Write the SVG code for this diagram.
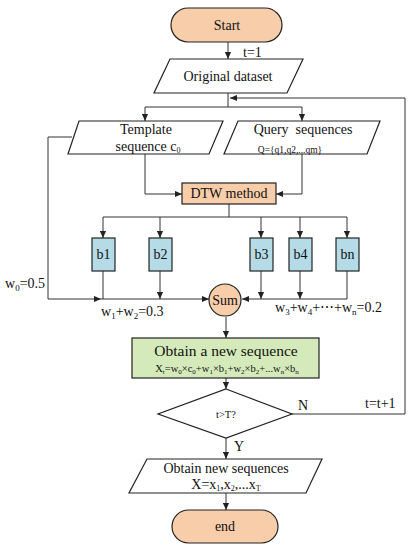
<svg xmlns="http://www.w3.org/2000/svg" width="415" height="550" viewBox="0 0 415 550" font-family="'Liberation Serif', 'Times New Roman', serif">
<style>
text{font-family:'Liberation Serif','Times New Roman',serif;fill:#111;text-anchor:middle}
.sh{stroke:#222;stroke-width:1.2}
.ln{fill:none;stroke:#333;stroke-width:1}
.peach{fill:#F8CDAA}
.blue{fill:#B5DCE6}
.green{fill:#D5EABA}
.wh{fill:#fff}
.t13{font-size:14px}
.lab{font-size:14px;text-anchor:start}
</style>
<defs>
<marker id="a" viewBox="0 0 8 8" refX="8" refY="4" markerWidth="7" markerHeight="7" orient="auto" markerUnits="userSpaceOnUse">
<path d="M0,0.5 L8,4 L0,7.5 z" fill="#222"/>
</marker>
</defs>
<rect width="415" height="550" fill="#fff"/>
<g id="connectors">
<path class="ln" d="M228,42 V59" marker-end="url(#a)"/>
<path class="ln" d="M228,93 V107 M145,107 H302"/>
<path class="ln" d="M145,107 V121" marker-end="url(#a)"/>
<path class="ln" d="M302,107 V121" marker-end="url(#a)"/>
<path class="ln" d="M145,154 V194 H182" marker-end="url(#a)"/>
<path class="ln" d="M302,154 V194 H276" marker-end="url(#a)"/>
<path class="ln" d="M229,204 V217 M103,217 H347"/>
<path class="ln" d="M103,217 V238" marker-end="url(#a)"/>
<path class="ln" d="M160,217 V238" marker-end="url(#a)"/>
<path class="ln" d="M261,217 V238" marker-end="url(#a)"/>
<path class="ln" d="M300,217 V238" marker-end="url(#a)"/>
<path class="ln" d="M347,217 V238" marker-end="url(#a)"/>
<path class="ln" d="M72,137 H48 V299 H101" marker-end="url(#a)"/>
<path class="ln" d="M101,299 H209" marker-end="url(#a)"/>
<path class="ln" d="M103,271 V299"/>
<path class="ln" d="M160,271 V299" marker-end="url(#a)"/>
<path class="ln" d="M261,271 V299" marker-end="url(#a)"/>
<path class="ln" d="M300,271 V299" marker-end="url(#a)"/>
<path class="ln" d="M347,271 V299 H242" marker-end="url(#a)"/>
<path class="ln" d="M226,317 V338" marker-end="url(#a)"/>
<path class="ln" d="M226,378 V389" marker-end="url(#a)"/>
<path class="ln" d="M292,414 H405 V98 H230" marker-end="url(#a)"/>
<path class="ln" d="M226,438 V459" marker-end="url(#a)"/>
<path class="ln" d="M226,493 V510" marker-end="url(#a)"/>
<text class="lab" x="243" y="57">t=1</text>
<text class="lab" x="5" y="288">w<tspan font-size="9" dy="3">0</tspan><tspan dy="-3">=0.5</tspan></text>
<text class="lab" x="101" y="316">w<tspan font-size="9" dy="3">1</tspan><tspan dy="-3">+w</tspan><tspan font-size="9" dy="3">2</tspan><tspan dy="-3">=0.3</tspan></text>
<text class="lab" x="275" y="312">w<tspan font-size="9" dy="3">3</tspan><tspan dy="-3">+w</tspan><tspan font-size="9" dy="3">4</tspan><tspan dy="-3">+⋯+w</tspan><tspan font-size="9" dy="3">n</tspan><tspan dy="-3">=0.2</tspan></text>
<text class="lab" x="298" y="410">N</text>
<text class="lab" x="365" y="408">t=t+1</text>
<text class="lab" x="234" y="451">Y</text>
</g>
<g id="start">
<rect class="peach sh" x="171" y="8" width="111" height="34" rx="17"/>
<text class="t13" x="227" y="30">Start</text>
</g>
<g id="original">
<polygon class="wh sh" points="170,59 303,59 287,93 154,93"/>
<text class="t13" x="228" y="81">Original dataset</text>
</g>
<g id="template">
<polygon class="wh sh" points="79,121 223,121 209,154 68,154"/>
<text class="t13" x="146" y="134">Template</text>
<text class="t13" x="148" y="151">sequence c<tspan font-size="8" dy="2">0</tspan></text>
</g>
<g id="query">
<polygon class="wh sh" points="238,121 380,121 367,154 224,154"/>
<text class="t13" x="303" y="134" xml:space="preserve">Query  sequences</text>
<text x="290" y="153" style="font-size:9.5px">Q={q1,q2,...qm}</text>
</g>
<g id="dtw">
<rect class="peach sh" x="182" y="183" width="94" height="21"/>
<text class="t13" x="229" y="198">DTW method</text>
</g>
<g id="b1"><rect class="blue sh" x="92" y="238" width="23" height="33"/><text class="t13" x="103.5" y="259">b1</text></g>
<g id="b2"><rect class="blue sh" x="149" y="238" width="23" height="33"/><text class="t13" x="160.5" y="259">b2</text></g>
<g id="b3"><rect class="blue sh" x="250" y="238" width="23" height="33"/><text class="t13" x="261.5" y="259">b3</text></g>
<g id="b4"><rect class="blue sh" x="289" y="238" width="23" height="33"/><text class="t13" x="300.5" y="259">b4</text></g>
<g id="bn"><rect class="blue sh" x="336" y="238" width="23" height="33"/><text class="t13" x="347.5" y="259">bn</text></g>
<g id="sum">
<circle class="peach sh" cx="225" cy="300" r="16"/>
<text class="t13" x="225" y="305">Sum</text>
</g>
<g id="newseq">
<rect class="green sh" x="132" y="338" width="187" height="40"/>
<text x="226" y="356" style="font-size:15.5px">Obtain a new sequence</text>
<text x="227" y="372" style="font-size:10.5px">X<tspan font-size="7" dy="2">t</tspan><tspan dy="-2">=w</tspan><tspan font-size="7" dy="2">0</tspan><tspan dy="-2">×c</tspan><tspan font-size="7" dy="2">0</tspan><tspan dy="-2">+w</tspan><tspan font-size="7" dy="2">1</tspan><tspan dy="-2">×b</tspan><tspan font-size="7" dy="2">1</tspan><tspan dy="-2">+w</tspan><tspan font-size="7" dy="2">2</tspan><tspan dy="-2">×b</tspan><tspan font-size="7" dy="2">2</tspan><tspan dy="-2">+...w</tspan><tspan font-size="7" dy="2">n</tspan><tspan dy="-2">×b</tspan><tspan font-size="7" dy="2">n</tspan></text>
</g>
<g id="decision">
<polygon class="wh sh" points="226,389 292,414 226,438 158,414"/>
<text x="226" y="418" style="font-size:10.5px">t&gt;T?</text>
</g>
<g id="newseqs">
<polygon class="wh sh" points="147,459 322,459 306,493 129,493"/>
<text class="t13" x="226" y="473">Obtain new sequences</text>
<text class="t13" x="226" y="489">X=x<tspan font-size="8" dy="2">1</tspan><tspan dy="-2">,x</tspan><tspan font-size="8" dy="2">2</tspan><tspan dy="-2">,...x</tspan><tspan font-size="8" dy="2">T</tspan></text>
</g>
<g id="end">
<rect class="peach sh" x="172" y="510" width="106" height="33" rx="16.5"/>
<text class="t13" x="225" y="531">end</text>
</g>
</svg>
